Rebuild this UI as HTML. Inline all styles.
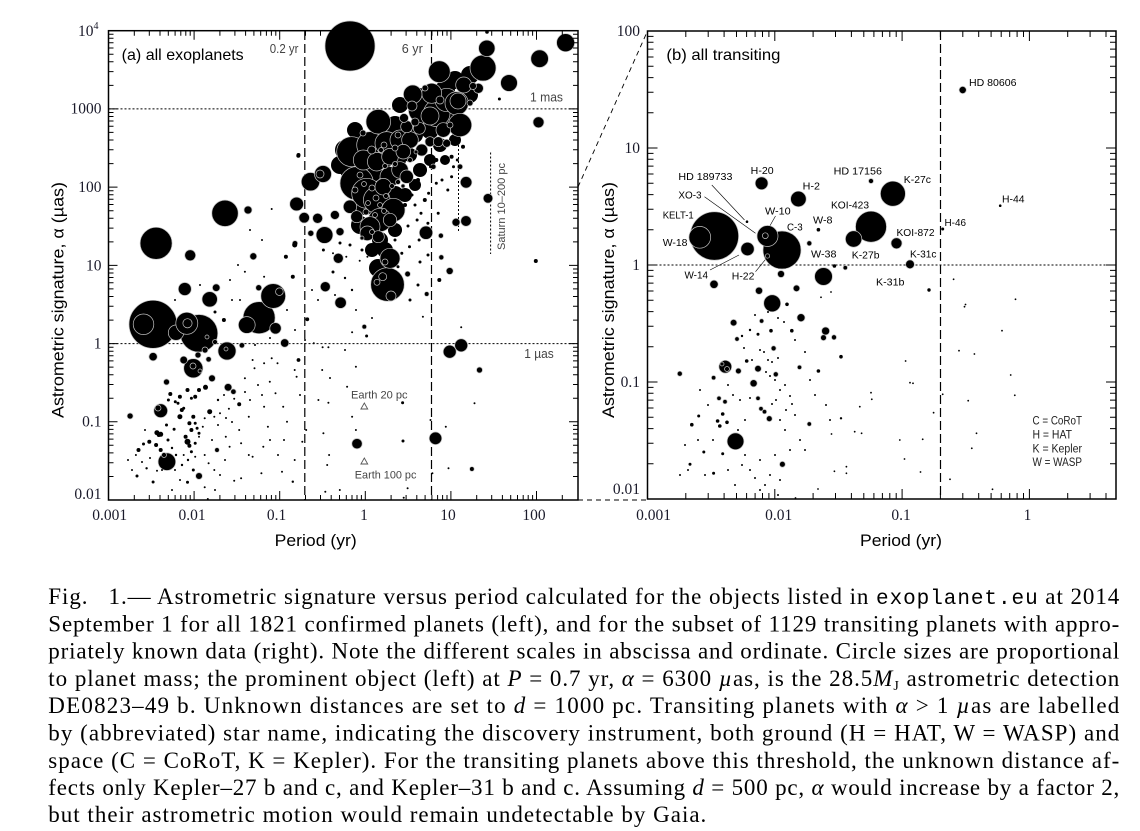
<!DOCTYPE html>
<html><head><meta charset="utf-8"><style>
html,body{margin:0;padding:0;background:#fff}
svg{display:block}
.c circle{fill:#000;stroke:#c4c4c4;stroke-width:.7}
.d circle{fill:#000}
.s{font-family:"Liberation Sans",sans-serif}
.n{font-family:"Liberation Serif",serif;font-size:15.5px;fill:#1a1a2a}
.a{font-family:"Liberation Sans",sans-serif;fill:#444}
.l{font-family:"Liberation Sans",sans-serif;font-size:10.5px;fill:#000}
.cap{font-family:"Liberation Serif",serif;font-size:23px;fill:#000}
</style></head><body>
<svg width="1140" height="831" viewBox="0 0 1140 831" xmlns="http://www.w3.org/2000/svg">
<rect width="1140" height="831" fill="#fff"/>

<!-- ================= LEFT PANEL ================= -->
<g fill="none" stroke="#000">
<path d="M304.8 31V500M431.5 31V500" stroke-width="1.2" stroke-dasharray="9,4"/>
<path d="M108.5 108.9H578M108.5 343.6H578" stroke-width="1" stroke-dasharray="2,2"/>
<path d="M490.6 152.5V254M458.5 133V233" stroke-width="1" stroke-dasharray="2,2"/>
</g>

<g class="d">
<circle cx="420" cy="100" r="12"/><circle cx="445" cy="90" r="10"/><circle cx="455" cy="80" r="9"/>
<circle cx="400" cy="105" r="8"/><circle cx="430" cy="130" r="9"/><circle cx="415" cy="135" r="8"/>
<circle cx="395" cy="125" r="9"/><circle cx="385" cy="135" r="8"/><circle cx="450" cy="115" r="10"/>
<circle cx="470" cy="95" r="8"/><circle cx="440" cy="145" r="7"/><circle cx="455" cy="140" r="6"/>
<circle cx="360" cy="140" r="10"/><circle cx="345" cy="150" r="10"/><circle cx="340" cy="165" r="9"/>
<circle cx="350" cy="170" r="10"/><circle cx="372" cy="172" r="10"/><circle cx="385" cy="160" r="8"/>
<circle cx="365" cy="205" r="10"/><circle cx="380" cy="240" r="8"/><circle cx="360" cy="225" r="9"/>
<circle cx="395" cy="195" r="9"/><circle cx="405" cy="195" r="7"/><circle cx="415" cy="185" r="6"/>
<circle cx="420" cy="170" r="7"/><circle cx="430" cy="160" r="6"/><circle cx="445" cy="160" r="5"/>
<circle cx="395" cy="230" r="7"/><circle cx="385" cy="250" r="8"/><circle cx="372" cy="250" r="7"/>
<circle cx="378" cy="268" r="9"/><circle cx="470" cy="75" r="9"/><circle cx="410" cy="155" r="7"/>
<circle cx="398" cy="160" r="8"/><circle cx="355" cy="130" r="8"/>
</g>

<g class="c">
<circle cx="350" cy="46" r="25"/><circle cx="153" cy="324.3" r="24"/><circle cx="199" cy="333.3" r="18.8"/>
<circle cx="387.5" cy="284.5" r="16.8"/><circle cx="356.7" cy="183.3" r="16.7"/><circle cx="156.1" cy="243.3" r="16"/>
<circle cx="259.1" cy="317.7" r="16"/><circle cx="351.7" cy="151.7" r="15"/><circle cx="366.7" cy="193.3" r="15"/>
<circle cx="483" cy="68" r="13"/><circle cx="225" cy="213.3" r="13.2"/><circle cx="370" cy="145" r="13.3"/>
<circle cx="376.7" cy="200" r="13.3"/><circle cx="421.7" cy="110" r="13.3"/><circle cx="436.7" cy="113.3" r="13.3"/>
<circle cx="273.2" cy="296" r="12.4"/><circle cx="378.3" cy="121.7" r="12.3"/><circle cx="446.7" cy="100" r="11.7"/>
<circle cx="456.7" cy="103.3" r="11.7"/><circle cx="460" cy="125" r="11.7"/><circle cx="386.7" cy="143.3" r="11.7"/>
<circle cx="393.3" cy="210" r="11.7"/><circle cx="380" cy="220" r="11.7"/><circle cx="439.3" cy="71.7" r="10.9"/>
<circle cx="431.7" cy="93.3" r="10"/><circle cx="400" cy="140" r="10"/><circle cx="363.3" cy="160" r="10"/>
<circle cx="390" cy="176.7" r="10"/><circle cx="370" cy="226.7" r="10"/><circle cx="390" cy="258.3" r="10"/>
<circle cx="310.5" cy="181.7" r="9.2"/><circle cx="323" cy="174" r="8.5"/><circle cx="193.3" cy="368.3" r="9.6"/>
<circle cx="412.7" cy="94.3" r="9.3"/><circle cx="376.7" cy="161.7" r="9.3"/><circle cx="565.6" cy="42.7" r="9"/>
<circle cx="539.6" cy="58.7" r="8.8"/><circle cx="227" cy="351" r="9"/><circle cx="166.9" cy="461.7" r="8.8"/>
<circle cx="509" cy="83" r="8.4"/><circle cx="486.8" cy="48.3" r="8.2"/><circle cx="324.5" cy="235" r="8.4"/>
<circle cx="463.7" cy="85" r="8"/><circle cx="390" cy="156.7" r="8.3"/><circle cx="383.3" cy="186.7" r="8.3"/>
<circle cx="410" cy="140" r="8.3"/><circle cx="400" cy="170" r="8.3"/><circle cx="176" cy="332.7" r="7.7"/>
<circle cx="209.7" cy="299.3" r="7.7"/><circle cx="403.3" cy="151.7" r="7.3"/><circle cx="443.3" cy="130" r="7.3"/>
<circle cx="367.3" cy="233.3" r="7.3"/><circle cx="160.7" cy="410.7" r="6.9"/><circle cx="296.6" cy="204" r="6.9"/>
<circle cx="406.7" cy="176.7" r="6.7"/><circle cx="390" cy="220" r="6.7"/><circle cx="350" cy="206.7" r="6.7"/>
<circle cx="426" cy="232.7" r="6.7"/><circle cx="184.8" cy="289" r="6.5"/><circle cx="449.7" cy="351.7" r="6.5"/>
<circle cx="461.2" cy="345.3" r="6.5"/><circle cx="435.5" cy="438.3" r="6.3"/><circle cx="406.7" cy="126.7" r="6"/>
<circle cx="419.3" cy="128.3" r="6"/><circle cx="421.7" cy="150" r="6"/><circle cx="356.7" cy="216.7" r="6"/>
<circle cx="378.3" cy="236.7" r="6"/><circle cx="466.1" cy="182.3" r="5.8"/><circle cx="275.5" cy="328.3" r="5.7"/>
<circle cx="340.6" cy="302.7" r="5.7"/><circle cx="538.5" cy="122.3" r="5.5"/><circle cx="190.2" cy="255.3" r="5.5"/>
<circle cx="466" cy="221" r="5.3"/><circle cx="304.2" cy="217.7" r="5.3"/><circle cx="357" cy="443.7" r="5.2"/>
<circle cx="317.6" cy="218.3" r="5"/><circle cx="325.3" cy="286.7" r="5"/><circle cx="488" cy="198.3" r="4.8"/>
<circle cx="478.4" cy="88.3" r="5"/><circle cx="338.3" cy="258.3" r="5"/><circle cx="430" cy="141.7" r="5"/>
<circle cx="438.3" cy="141.7" r="5"/><circle cx="404" cy="118" r="4.5"/><circle cx="334.9" cy="215" r="4.5"/>
<circle cx="153.1" cy="356.7" r="4.2"/><circle cx="284.7" cy="343" r="4.2"/><circle cx="446.7" cy="143.3" r="4"/>
<circle cx="340" cy="231.7" r="4"/><circle cx="456" cy="222.3" r="4"/><circle cx="248" cy="210" r="4"/>
<circle cx="216.2" cy="287.7" r="3.8"/><circle cx="183.7" cy="360" r="3.8"/><circle cx="228.1" cy="387.3" r="3.8"/>
<circle cx="253.3" cy="256.3" r="3.5"/><circle cx="449.7" cy="271" r="3.5"/><circle cx="212" cy="378.3" r="3.4"/>
<circle cx="199" cy="476" r="3.4"/><circle cx="479.5" cy="370" r="3"/><circle cx="258.7" cy="287.7" r="3"/>
<circle cx="166.5" cy="382" r="3"/><circle cx="130.1" cy="416" r="3"/><circle cx="310.8" cy="233.3" r="3"/>
<circle cx="407.6" cy="274" r="2.8"/><circle cx="241.9" cy="345.3" r="2.7"/><circle cx="233.4" cy="391.7" r="2.7"/>
<circle cx="208.6" cy="359.3" r="2.7"/><circle cx="460" cy="166.7" r="2.7"/><circle cx="433.3" cy="166.7" r="2.7"/>
<circle cx="295" cy="243.3" r="2.7"/><circle cx="426.7" cy="294" r="2.3"/><circle cx="364.3" cy="326.7" r="2.3"/>
<circle cx="471.9" cy="469" r="2.3"/><circle cx="217" cy="450" r="2.3"/><circle cx="440.9" cy="235.7" r="2.5"/>
<circle cx="441.3" cy="257.3" r="2.5"/>
<circle cx="143.5" cy="324.3" r="10.3"/><circle cx="186.8" cy="323.3" r="11"/><circle cx="187.5" cy="323.3" r="4.6"/>
<circle cx="205" cy="350" r="3"/><circle cx="207" cy="337" r="2"/><circle cx="215" cy="342" r="2.5"/><circle cx="198" cy="355" r="3"/>
<circle cx="246.8" cy="325" r="8.4"/><circle cx="279.4" cy="291.7" r="3.8"/><circle cx="377" cy="282.3" r="3"/>
<circle cx="382.7" cy="276.7" r="4"/><circle cx="391" cy="296" r="5"/><circle cx="371.7" cy="150" r="4"/>
<circle cx="384" cy="145" r="3"/><circle cx="363" cy="133" r="3"/><circle cx="381" cy="150" r="2.5"/>
<circle cx="395" cy="148" r="3"/><circle cx="360" cy="175" r="3"/><circle cx="372" cy="188" r="3"/>
<circle cx="376" cy="198" r="3"/><circle cx="368" cy="203" r="2.5"/><circle cx="380" cy="205" r="2.5"/>
<circle cx="386" cy="196" r="2.5"/><circle cx="392" cy="186" r="2.5"/><circle cx="355" cy="190" r="3"/>
<circle cx="364" cy="184" r="2.5"/><circle cx="398" cy="182" r="2.5"/><circle cx="403" cy="186" r="2"/>
<circle cx="385" cy="166" r="2.5"/><circle cx="395" cy="164" r="2.5"/><circle cx="410" cy="160" r="2.5"/>
<circle cx="416" cy="152" r="2"/><circle cx="470" cy="103" r="3"/><circle cx="473" cy="86" r="3.5"/>
<circle cx="458" cy="101" r="8"/><circle cx="430" cy="116" r="9"/><circle cx="415" cy="122" r="4"/>
<circle cx="366" cy="212" r="3"/><circle cx="375" cy="215" r="2.5"/><circle cx="384" cy="211" r="2.5"/>
<circle cx="372" cy="232" r="2.5"/><circle cx="362" cy="238" r="2"/><circle cx="385" cy="262" r="3"/>
<circle cx="164" cy="455" r="2.5"/><circle cx="158" cy="408" r="3"/><circle cx="193" cy="366" r="3"/>
<circle cx="200" cy="371" r="2"/><circle cx="226" cy="349" r="2"/><circle cx="320" cy="174" r="4"/>
<circle cx="412" cy="106" r="5"/><circle cx="440" cy="100" r="4"/><circle cx="425" cy="88" r="3"/>
<circle cx="450" cy="125" r="3"/><circle cx="398" cy="135" r="3"/>
</g>

<g class="d">
<circle cx="138.5" cy="450" r="2"/><circle cx="143.5" cy="444" r="1.5"/><circle cx="149.3" cy="441.7" r="2"/>
<circle cx="135.9" cy="455" r="1"/><circle cx="146.6" cy="468.3" r="1.2"/><circle cx="137" cy="476" r="1.5"/>
<circle cx="153.1" cy="482" r="1.5"/><circle cx="157" cy="470.7" r="1"/><circle cx="160.7" cy="450" r="2"/>
<circle cx="156.1" cy="445" r="2"/><circle cx="158.8" cy="435" r="2"/><circle cx="156.9" cy="432.7" r="2.5"/>
<circle cx="160.7" cy="434.3" r="2.5"/><circle cx="166.5" cy="425" r="1.5"/><circle cx="174.1" cy="429.3" r="1.5"/>
<circle cx="179.9" cy="416.7" r="2.5"/><circle cx="181.8" cy="410" r="2"/><circle cx="178" cy="403.3" r="1.5"/>
<circle cx="179.9" cy="396.7" r="2"/><circle cx="170.3" cy="394" r="2"/><circle cx="168.4" cy="400" r="1.5"/>
<circle cx="175.3" cy="401.7" r="1.5"/><circle cx="183.7" cy="408.3" r="1.5"/><circle cx="187.5" cy="390" r="2"/>
<circle cx="191.4" cy="398.3" r="1.5"/><circle cx="195.2" cy="396.7" r="2"/><circle cx="199" cy="390" r="2"/>
<circle cx="205.5" cy="387.3" r="2.5"/><circle cx="193.3" cy="416.7" r="2"/><circle cx="195.2" cy="423.3" r="1.5"/>
<circle cx="189.4" cy="423.3" r="2"/><circle cx="191.4" cy="430" r="2"/><circle cx="197.1" cy="428.3" r="1.5"/>
<circle cx="199" cy="433.3" r="1.5"/><circle cx="185.6" cy="436.7" r="2"/><circle cx="187.5" cy="441.7" r="3"/>
<circle cx="189.4" cy="445.7" r="2"/><circle cx="195.2" cy="443.3" r="1.5"/><circle cx="199" cy="436.7" r="1"/>
<circle cx="202.8" cy="426.7" r="1"/><circle cx="204.7" cy="418.3" r="1"/><circle cx="209.7" cy="411.7" r="2.5"/>
<circle cx="214.3" cy="416.7" r="1"/><circle cx="220" cy="413.3" r="1"/><circle cx="228.9" cy="408.7" r="1"/>
<circle cx="239.2" cy="404.3" r="2"/><circle cx="234.2" cy="398.7" r="1"/><circle cx="191.4" cy="451.7" r="1.5"/>
<circle cx="183.7" cy="455" r="1"/><circle cx="195.2" cy="456.7" r="1"/><circle cx="204.7" cy="455" r="1"/>
<circle cx="208.6" cy="463.3" r="1"/><circle cx="214.3" cy="470" r="1"/><circle cx="187.5" cy="482.3" r="1.5"/>
<circle cx="193.3" cy="470" r="1.5"/><circle cx="204.7" cy="487.3" r="1"/><circle cx="207.8" cy="499" r="1"/>
<circle cx="234.2" cy="480.7" r="1"/><circle cx="241.1" cy="478.3" r="1"/><circle cx="248.8" cy="455" r="1"/>
<circle cx="252.6" cy="456.7" r="1"/><circle cx="263.3" cy="446.7" r="1"/><circle cx="267.9" cy="426.7" r="1"/>
<circle cx="264.1" cy="406.7" r="1"/><circle cx="248.8" cy="416.7" r="1"/><circle cx="239.2" cy="430" r="1"/>
<circle cx="225.8" cy="436.7" r="1"/><circle cx="229.6" cy="446.7" r="1"/><circle cx="241.1" cy="443.3" r="1"/>
<circle cx="275.5" cy="393.3" r="1"/><circle cx="283.2" cy="406.7" r="1"/><circle cx="287" cy="421.7" r="1"/>
<circle cx="269.8" cy="381.7" r="1"/><circle cx="244.9" cy="378.3" r="1"/><circle cx="254.5" cy="368.3" r="1"/>
<circle cx="264.1" cy="363.3" r="1"/><circle cx="271.7" cy="358.3" r="1"/><circle cx="277.5" cy="363.3" r="1"/>
<circle cx="252.6" cy="360" r="1"/><circle cx="294.7" cy="370" r="1"/><circle cx="296.6" cy="376.7" r="1"/>
<circle cx="261.4" cy="473.3" r="1"/><circle cx="282" cy="471.7" r="1"/><circle cx="292.8" cy="481.7" r="1.2"/>
<circle cx="294.7" cy="460" r="1"/><circle cx="302.3" cy="441.7" r="1"/><circle cx="306.2" cy="430" r="1"/>
<circle cx="323.4" cy="433.3" r="1"/><circle cx="329.1" cy="455" r="1"/><circle cx="327.2" cy="465" r="1"/>
<circle cx="325.3" cy="491.7" r="1"/><circle cx="339.8" cy="490" r="1"/><circle cx="318.4" cy="400" r="1"/>
<circle cx="328.4" cy="402.7" r="1"/><circle cx="347.1" cy="386.7" r="1"/><circle cx="352.1" cy="416.7" r="1"/>
<circle cx="355.9" cy="430" r="1"/><circle cx="322.2" cy="370" r="1"/><circle cx="322.6" cy="347.3" r="1"/>
<circle cx="328.4" cy="347.3" r="1"/><circle cx="313.8" cy="343.3" r="1"/><circle cx="352.1" cy="332.3" r="1"/>
<circle cx="366.6" cy="336" r="1.5"/><circle cx="355.9" cy="366.7" r="1"/><circle cx="422.9" cy="316.7" r="1"/>
<circle cx="430.5" cy="420" r="1"/><circle cx="432.4" cy="473.3" r="1"/><circle cx="445.8" cy="426.7" r="1"/>
<circle cx="461.2" cy="327.3" r="1"/><circle cx="474.5" cy="403.3" r="1"/><circle cx="448.5" cy="468.3" r="1"/>
<circle cx="407.6" cy="488.3" r="1"/><circle cx="403.7" cy="497.7" r="1"/><circle cx="402.6" cy="402.7" r="1.5"/>
<circle cx="403" cy="441" r="1.5"/><circle cx="499.4" cy="99" r="1.5"/><circle cx="487" cy="32" r="1.8"/>
<circle cx="535.8" cy="261" r="2"/><circle cx="298.3" cy="155.7" r="2"/><circle cx="439.3" cy="280" r="2"/>
<circle cx="223.9" cy="320" r="2"/><circle cx="298.5" cy="360" r="1.9"/><circle cx="307.3" cy="319.3" r="1.9"/>
<circle cx="271.7" cy="209" r="1"/><circle cx="298.5" cy="155" r="2"/><circle cx="294.7" cy="245" r="2.5"/>
<circle cx="285.9" cy="256.7" r="2"/><circle cx="244.9" cy="271.7" r="1"/><circle cx="264.1" cy="276.7" r="1"/>
<circle cx="292.8" cy="276.7" r="2"/><circle cx="323.4" cy="250" r="1.5"/><circle cx="333" cy="253.3" r="1"/>
<circle cx="346.3" cy="256.7" r="1"/><circle cx="359.7" cy="260.7" r="1"/><circle cx="367.4" cy="256.7" r="1"/>
<circle cx="424.8" cy="200" r="2"/><circle cx="428.6" cy="193.3" r="1.5"/><circle cx="436.3" cy="183.3" r="1.5"/>
<circle cx="442" cy="180" r="1.5"/><circle cx="451.6" cy="176.7" r="1.5"/><circle cx="447.8" cy="190" r="1.5"/>
<circle cx="421" cy="213.3" r="1.5"/><circle cx="417.1" cy="220" r="1.5"/><circle cx="427.9" cy="223.3" r="1.5"/>
<circle cx="430.5" cy="233.3" r="1.5"/><circle cx="438.2" cy="213.3" r="1.5"/><circle cx="419.1" cy="240" r="1.5"/>
<circle cx="409.5" cy="246.7" r="1.5"/><circle cx="401.8" cy="253.3" r="1.5"/><circle cx="398" cy="266.7" r="1.5"/>
<circle cx="451.6" cy="156.7" r="2"/><circle cx="457.3" cy="160" r="1.5"/><circle cx="453.5" cy="166.7" r="1.5"/>
<circle cx="463" cy="146.7" r="2"/><circle cx="436.3" cy="160" r="2"/><circle cx="430.5" cy="166.7" r="1.5"/>
<circle cx="409.5" cy="175" r="2"/><circle cx="418" cy="180" r="2"/><circle cx="425" cy="170" r="2"/>
<circle cx="412" cy="195" r="1.5"/><circle cx="405" cy="205" r="2"/><circle cx="415" cy="205" r="1.5"/>
<circle cx="400" cy="230" r="2"/><circle cx="408" cy="226" r="1.5"/><circle cx="395" cy="240" r="1.5"/>
<circle cx="362" cy="250" r="1.5"/><circle cx="350" cy="245" r="1.5"/><circle cx="340" cy="243" r="1.5"/>
<circle cx="333" cy="272" r="1.5"/><circle cx="345" cy="278" r="1.2"/><circle cx="352" cy="290" r="1.2"/>
<circle cx="335" cy="295" r="1"/><circle cx="318" cy="300" r="1"/><circle cx="312" cy="290" r="1"/>
<circle cx="356" cy="310" r="1"/><circle cx="372" cy="318" r="1"/><circle cx="410" cy="300" r="1.5"/>
<circle cx="418" cy="285" r="1.5"/><circle cx="420" cy="262" r="1.5"/><circle cx="428" cy="255" r="1.5"/>
<circle cx="250" cy="230" r="1"/><circle cx="262" cy="240" r="1"/><circle cx="238" cy="265" r="1"/>
<circle cx="230" cy="280" r="1"/><circle cx="240" cy="300" r="1"/><circle cx="287" cy="310" r="1"/>
<circle cx="295" cy="330" r="1"/><circle cx="305" cy="340" r="1"/><circle cx="255" cy="345" r="1"/>
<circle cx="270" cy="338" r="1"/><circle cx="215" cy="312" r="1.5"/><circle cx="232" cy="300" r="1"/>
<circle cx="175" cy="300" r="1"/><circle cx="170" cy="312" r="1"/><circle cx="200" cy="285" r="1"/>
<circle cx="145" cy="430" r="1"/><circle cx="150" cy="458" r="1"/><circle cx="175" cy="470" r="1"/>
<circle cx="180" cy="480" r="1"/><circle cx="172" cy="490" r="1"/><circle cx="215" cy="490" r="1"/>
<circle cx="220" cy="475" r="1"/><circle cx="225" cy="460" r="1"/><circle cx="212" cy="440" r="1"/>
<circle cx="218" cy="425" r="1"/><circle cx="226" cy="418" r="1"/><circle cx="232" cy="422" r="1"/>
<circle cx="270" cy="440" r="1"/><circle cx="278" cy="455" r="1"/><circle cx="284" cy="440" r="1"/>
<circle cx="300" cy="395" r="1"/><circle cx="330" cy="378" r="1"/><circle cx="345" cy="350" r="1"/>
<circle cx="168" cy="440" r="1.5"/><circle cx="172" cy="448" r="1.2"/><circle cx="182" cy="465" r="1.2"/>
<circle cx="188" cy="460" r="1.2"/><circle cx="176" cy="455" r="1.2"/><circle cx="162" cy="470" r="1"/>
<circle cx="142" cy="462" r="1"/><circle cx="128" cy="460" r="1"/><circle cx="132" cy="470" r="1"/>
<circle cx="218" cy="400" r="1.2"/><circle cx="224" cy="395" r="1"/><circle cx="245" cy="392" r="1"/>
<circle cx="258" cy="385" r="1"/><circle cx="262" cy="395" r="1"/><circle cx="250" cy="400" r="1"/>
</g>

<g fill="#fff" stroke="#555" stroke-width="0.9">
<path d="M364.3 403l3.4 6h-6.8z"/><path d="M364.3 458l3.4 6h-6.8z"/>
</g>

<rect x="108.5" y="30.7" width="469.5" height="469.3" fill="none" stroke="#000" stroke-width="1.5"/>
<g stroke="#000" stroke-width="1" fill="none">
<path d="M194.1 500v-9M279.7 500v-9M365.3 500v-9M450.9 500v-9M536.5 500v-9M194.1 30.7v9M279.7 30.7v9M365.3 30.7v9M450.9 30.7v9M536.5 30.7v9"/>
<path d="M134.3 500v-5M149.3 500v-5M160 500v-5M168.3 500v-5M175.1 500v-5M180.8 500v-5M185.8 500v-5M190.2 500v-5M219.9 500v-5M234.9 500v-5M245.6 500v-5M253.9 500v-5M260.7 500v-5M266.4 500v-5M271.4 500v-5M275.8 500v-5M305.5 500v-5M320.5 500v-5M331.2 500v-5M339.5 500v-5M346.3 500v-5M352 500v-5M357 500v-5M361.4 500v-5M391.1 500v-5M406.1 500v-5M416.8 500v-5M425.1 500v-5M431.9 500v-5M437.6 500v-5M442.6 500v-5M447 500v-5M476.7 500v-5M491.7 500v-5M502.4 500v-5M510.7 500v-5M517.5 500v-5M523.2 500v-5M528.2 500v-5M532.6 500v-5M562.3 500v-5"/>
<path d="M134.3 30.7v5M149.3 30.7v5M160 30.7v5M168.3 30.7v5M175.1 30.7v5M180.8 30.7v5M185.8 30.7v5M190.2 30.7v5M219.9 30.7v5M234.9 30.7v5M245.6 30.7v5M253.9 30.7v5M260.7 30.7v5M266.4 30.7v5M271.4 30.7v5M275.8 30.7v5M305.5 30.7v5M320.5 30.7v5M331.2 30.7v5M339.5 30.7v5M346.3 30.7v5M352 30.7v5M357 30.7v5M361.4 30.7v5M391.1 30.7v5M406.1 30.7v5M416.8 30.7v5M425.1 30.7v5M431.9 30.7v5M437.6 30.7v5M442.6 30.7v5M447 30.7v5M476.7 30.7v5M491.7 30.7v5M502.4 30.7v5M510.7 30.7v5M517.5 30.7v5M523.2 30.7v5M528.2 30.7v5M532.6 30.7v5M562.3 30.7v5"/>
<path d="M108.5 108.9h9M108.5 187.1h9M108.5 265.4h9M108.5 343.6h9M108.5 421.8h9M578 108.9h-9M578 187.1h-9M578 265.4h-9M578 343.6h-9M578 421.8h-9"/>
<path d="M108.5 476.5h5M108.5 462.7h5M108.5 452.9h5M108.5 445.3h5M108.5 439.1h5M108.5 433.9h5M108.5 429.4h5M108.5 425.4h5M108.5 398.3h5M108.5 384.5h5M108.5 374.7h5M108.5 367.1h5M108.5 360.9h5M108.5 355.7h5M108.5 351.2h5M108.5 347.2h5M108.5 320.1h5M108.5 306.3h5M108.5 296.5h5M108.5 288.9h5M108.5 282.7h5M108.5 277.5h5M108.5 273h5M108.5 269h5M108.5 241.9h5M108.5 228.1h5M108.5 218.3h5M108.5 210.7h5M108.5 204.5h5M108.5 199.3h5M108.5 194.8h5M108.5 190.8h5M108.5 163.6h5M108.5 149.8h5M108.5 140h5M108.5 132.4h5M108.5 126.2h5M108.5 121h5M108.5 116.5h5M108.5 112.5h5M108.5 85.4h5M108.5 71.6h5M108.5 61.8h5M108.5 54.2h5M108.5 48h5M108.5 42.8h5M108.5 38.3h5M108.5 34.3h5"/>
<path d="M578 476.5h-5M578 462.7h-5M578 452.9h-5M578 445.3h-5M578 439.1h-5M578 433.9h-5M578 429.4h-5M578 425.4h-5M578 398.3h-5M578 384.5h-5M578 374.7h-5M578 367.1h-5M578 360.9h-5M578 355.7h-5M578 351.2h-5M578 347.2h-5M578 320.1h-5M578 306.3h-5M578 296.5h-5M578 288.9h-5M578 282.7h-5M578 277.5h-5M578 273h-5M578 269h-5M578 241.9h-5M578 228.1h-5M578 218.3h-5M578 210.7h-5M578 204.5h-5M578 199.3h-5M578 194.8h-5M578 190.8h-5M578 163.6h-5M578 149.8h-5M578 140h-5M578 132.4h-5M578 126.2h-5M578 121h-5M578 116.5h-5M578 112.5h-5M578 85.4h-5M578 71.6h-5M578 61.8h-5M578 54.2h-5M578 48h-5M578 42.8h-5M578 38.3h-5M578 34.3h-5"/>
</g>

<g class="n" text-anchor="end">
<text x="98.5" y="36">10<tspan font-size="10" dy="-7">4</tspan></text>
<text x="101.5" y="113.5">1000</text>
<text x="101.5" y="192">100</text>
<text x="101.5" y="270.5">10</text>
<text x="101.5" y="348.5">1</text>
<text x="101.5" y="426.5">0.1</text>
<text x="101.5" y="499">0.01</text>
</g>
<g class="n" text-anchor="middle">
<text x="109.7" y="520">0.001</text>
<text x="192" y="520">0.01</text>
<text x="276.5" y="520">0.1</text>
<text x="364" y="520">1</text>
<text x="448" y="520">10</text>
<text x="534" y="520">100</text>
</g>

<text class="s" x="121.7" y="60" font-size="16" textLength="122" lengthAdjust="spacingAndGlyphs">(a) all exoplanets</text>
<text class="a" x="269.8" y="53" font-size="12.5" textLength="28.7" lengthAdjust="spacingAndGlyphs">0.2 yr</text>
<text class="a" x="401.8" y="53" font-size="12.5" textLength="21" lengthAdjust="spacingAndGlyphs">6 yr</text>
<text class="a" x="530" y="101.5" font-size="12.5" textLength="33" lengthAdjust="spacingAndGlyphs">1 mas</text>
<text class="a" x="524.3" y="358" font-size="12.5" textLength="29.5" lengthAdjust="spacingAndGlyphs">1 µas</text>
<text class="a" transform="translate(505,250) rotate(-90)" font-size="11" textLength="87" lengthAdjust="spacingAndGlyphs">Saturn 10–200 pc</text>
<text class="a" x="351" y="398.5" font-size="11" textLength="56.6" lengthAdjust="spacingAndGlyphs">Earth 20 pc</text>
<text class="a" x="354.8" y="478.5" font-size="11" textLength="61.6" lengthAdjust="spacingAndGlyphs">Earth 100 pc</text>

<text class="s" transform="translate(63.5,300) rotate(-90)" text-anchor="middle" font-size="17" textLength="236" lengthAdjust="spacingAndGlyphs">Astrometric signature, α (µas)</text>
<text class="s" x="315.7" y="546" text-anchor="middle" font-size="17" textLength="82" lengthAdjust="spacingAndGlyphs">Period (yr)</text>

<g stroke="#000" stroke-width="0.9" stroke-dasharray="5,4" fill="none">
<path d="M578 187L647.5 31"/>
<path d="M578 500H647.5"/>
</g>

<!-- ================= RIGHT PANEL ================= -->
<g fill="none" stroke="#000">
<path d="M940.5 31V499" stroke-width="1.2" stroke-dasharray="9,4"/>
<path d="M647.5 265H1116" stroke-width="1" stroke-dasharray="2,2"/>
</g>

<g stroke="#000" stroke-width="0.6" fill="none">
<path d="M711.8 185L744.5 220M704.5 196.7L755.5 233.3M775.5 216L767.5 230M710 270L739 255M755.5 271.7L766.4 258.3"/>
</g>

<g class="c">
<circle cx="714.4" cy="236" r="24.2"/><circle cx="699.8" cy="237.3" r="10.9"/>
<circle cx="782" cy="250" r="19"/><circle cx="871" cy="226.7" r="15.5"/><circle cx="892.9" cy="193.7" r="12.5"/>
<circle cx="767.5" cy="236" r="10.5"/><circle cx="765.3" cy="235.7" r="2.9"/>
<circle cx="823.5" cy="276.5" r="8.9"/><circle cx="772.2" cy="303.3" r="8.5"/><circle cx="735.5" cy="441.3" r="8.4"/>
<circle cx="853.6" cy="239" r="8.2"/><circle cx="798.4" cy="199" r="7.8"/><circle cx="747.5" cy="249" r="6.7"/>
<circle cx="761.6" cy="183.3" r="6.4"/><circle cx="725.3" cy="366.7" r="6.4"/><circle cx="722" cy="364" r="2"/>
<circle cx="727" cy="369" r="2.5"/><circle cx="896.5" cy="243.3" r="5.5"/><circle cx="910" cy="264.3" r="4.4"/>
<circle cx="714" cy="284.3" r="4.2"/><circle cx="801" cy="317.7" r="4"/><circle cx="825.6" cy="331" r="4"/>
<circle cx="962.7" cy="90" r="3.6"/><circle cx="759" cy="290.7" r="3.6"/><circle cx="753.6" cy="383.3" r="3.6"/>
<circle cx="781" cy="274" r="3.5"/><circle cx="796.5" cy="288.3" r="3.3"/><circle cx="733.6" cy="322.7" r="3.3"/>
<circle cx="758" cy="368.7" r="3.3"/><circle cx="823.5" cy="337.7" r="2.9"/><circle cx="769.3" cy="418.7" r="2.9"/>
<circle cx="782.4" cy="464.3" r="2.9"/><circle cx="738.4" cy="371" r="2.9"/><circle cx="834" cy="337.3" r="2.5"/>
<circle cx="871" cy="181" r="2.5"/><circle cx="809.3" cy="243.3" r="2.5"/><circle cx="679.8" cy="373.7" r="2.5"/>
<circle cx="775.8" cy="374.3" r="2.5"/><circle cx="773.6" cy="348.3" r="2.5"/><circle cx="761.6" cy="321" r="2.2"/>
<circle cx="737" cy="339" r="2.2"/><circle cx="713.6" cy="377.7" r="2.2"/><circle cx="799.5" cy="367.3" r="2.2"/>
<circle cx="719" cy="398.3" r="2.2"/><circle cx="725" cy="401.7" r="2.2"/><circle cx="758" cy="398.3" r="2.2"/>
<circle cx="761" cy="408.7" r="2.2"/><circle cx="764.5" cy="411.7" r="2.2"/><circle cx="809.3" cy="424" r="2.2"/>
<circle cx="845.3" cy="267.7" r="2.2"/><circle cx="767.5" cy="256" r="2.2"/>
</g>
<g class="d">
<circle cx="787" cy="304.3" r="1.8"/><circle cx="818.4" cy="229.7" r="1.8"/><circle cx="834.4" cy="266" r="1.8"/>
<circle cx="841" cy="356.7" r="1.8"/><circle cx="771" cy="330.7" r="1.8"/><circle cx="791.8" cy="330.7" r="1.8"/>
<circle cx="746.7" cy="361" r="1.8"/><circle cx="818.4" cy="371" r="1.8"/><circle cx="722.7" cy="414" r="1.8"/>
<circle cx="717.6" cy="421" r="1.8"/><circle cx="719.8" cy="426" r="1.8"/><circle cx="727" cy="422.3" r="1.8"/>
<circle cx="691.8" cy="424.7" r="1.8"/><circle cx="929" cy="290" r="1.7"/><circle cx="942.7" cy="229" r="1.5"/>
<circle cx="1000.2" cy="205.7" r="1.3"/><circle cx="747" cy="221.7" r="1.3"/><circle cx="698.7" cy="416" r="1.5"/>
<circle cx="722.7" cy="453.7" r="1.5"/><circle cx="703.8" cy="452" r="1.5"/><circle cx="690" cy="464.3" r="1.5"/>
<circle cx="713.6" cy="473.3" r="1.5"/><circle cx="758" cy="334.3" r="1.5"/><circle cx="841" cy="418.3" r="1.2"/>
<circle cx="953.6" cy="279.3" r="0.9"/><circle cx="964.5" cy="306.7" r="0.9"/><circle cx="965.5" cy="304.5" r="0.9"/>
<circle cx="1015.5" cy="299.3" r="0.9"/><circle cx="1002" cy="330.7" r="0.9"/><circle cx="959" cy="350.7" r="0.9"/>
<circle cx="974.4" cy="354" r="0.9"/><circle cx="1010.7" cy="375" r="0.9"/><circle cx="1014.8" cy="395.3" r="0.9"/>
<circle cx="942.7" cy="394.3" r="0.9"/><circle cx="968.2" cy="400.7" r="0.9"/><circle cx="933.6" cy="412.7" r="0.9"/>
<circle cx="976.5" cy="433.3" r="0.9"/><circle cx="971.8" cy="448.3" r="0.9"/><circle cx="950" cy="479.3" r="0.9"/>
<circle cx="992.5" cy="489.3" r="0.9"/><circle cx="905.6" cy="361" r="0.9"/><circle cx="910" cy="382.7" r="0.9"/>
<circle cx="913" cy="383.3" r="0.9"/><circle cx="871" cy="392.7" r="0.9"/><circle cx="871.8" cy="399.3" r="0.9"/>
<circle cx="859.8" cy="406.7" r="0.9"/><circle cx="854.7" cy="431.7" r="0.9"/><circle cx="861.6" cy="433.3" r="0.9"/>
<circle cx="899.8" cy="440" r="0.9"/><circle cx="922.7" cy="439.3" r="0.9"/><circle cx="904.5" cy="459" r="0.9"/>
<circle cx="920.5" cy="472" r="0.9"/><circle cx="846.4" cy="466.7" r="0.9"/><circle cx="846.4" cy="473.3" r="0.9"/>
<circle cx="834.4" cy="471.3" r="0.9"/><circle cx="818" cy="489" r="0.9"/><circle cx="795.5" cy="498" r="0.9"/>
<circle cx="831.5" cy="434" r="0.9"/><circle cx="821" cy="297.3" r="0.9"/><circle cx="831" cy="292" r="0.9"/>
<circle cx="760" cy="350" r="1"/><circle cx="764" cy="352" r="1"/><circle cx="768" cy="360" r="1"/>
<circle cx="772" cy="362" r="1"/><circle cx="778" cy="358" r="1"/><circle cx="766" cy="372" r="1"/>
<circle cx="770" cy="376" r="1"/><circle cx="775" cy="380" r="1"/><circle cx="780" cy="390" r="1"/>
<circle cx="785" cy="385" r="1"/><circle cx="790" cy="396" r="1"/><circle cx="792" cy="404" r="1"/>
<circle cx="786" cy="410" r="1"/><circle cx="776" cy="400" r="1"/><circle cx="772" cy="404" r="1"/>
<circle cx="780" cy="420" r="1"/><circle cx="785" cy="430" r="1"/><circle cx="795" cy="415" r="1"/>
<circle cx="800" cy="440" r="1"/><circle cx="805" cy="450" r="1"/><circle cx="790" cy="450" r="1"/>
<circle cx="775" cy="455" r="1"/><circle cx="760" cy="460" r="1"/><circle cx="750" cy="470" r="1"/>
<circle cx="742" cy="465" r="1"/><circle cx="770" cy="475" r="1"/><circle cx="780" cy="480" r="1"/>
<circle cx="765" cy="485" r="1"/><circle cx="755" cy="478" r="1"/><circle cx="745" cy="455" r="1"/>
<circle cx="738" cy="430" r="1"/><circle cx="745" cy="420" r="1"/><circle cx="750" cy="398" r="1"/>
<circle cx="752" cy="360" r="1"/><circle cx="744" cy="348" r="1"/><circle cx="742" cy="336" r="1.2"/>
<circle cx="750" cy="330" r="1.2"/><circle cx="755" cy="315" r="1"/><circle cx="768" cy="312" r="1"/>
<circle cx="778" cy="318" r="1"/><circle cx="784" cy="322" r="1"/><circle cx="795" cy="340" r="1"/>
<circle cx="805" cy="352" r="1"/><circle cx="810" cy="380" r="1"/><circle cx="815" cy="395" r="1"/>
<circle cx="826" cy="405" r="1"/><circle cx="830" cy="420" r="1"/><circle cx="740" cy="400" r="1"/>
<circle cx="733" cy="395" r="1"/><circle cx="728" cy="385" r="1"/><circle cx="700" cy="390" r="1"/>
<circle cx="708" cy="405" r="1"/><circle cx="713" cy="440" r="1"/><circle cx="698" cy="440" r="1"/>
<circle cx="685" cy="445" r="1"/><circle cx="688" cy="470" r="1"/><circle cx="680" cy="475" r="1"/>
<circle cx="705" cy="475" r="1"/><circle cx="728" cy="470" r="1"/><circle cx="735" cy="485" r="1"/>
<circle cx="760" cy="490" r="1"/><circle cx="778" cy="495" r="1"/><circle cx="834" cy="266" r="1"/>
</g>

<rect x="647.5" y="31" width="468.5" height="468" fill="none" stroke="#000" stroke-width="1.5"/>
<g stroke="#000" stroke-width="1" fill="none">
<path d="M774.8 499v-10M902.1 499v-10M1029.4 499v-10M774.8 31v10M902.1 31v10M1029.4 31v10"/>
<path d="M685.8 499v-6M708.2 499v-6M724.1 499v-6M736.5 499v-6M746.6 499v-6M755.1 499v-6M762.5 499v-6M768.9 499v-6M813.1 499v-6M835.5 499v-6M851.4 499v-6M863.8 499v-6M873.9 499v-6M882.4 499v-6M889.8 499v-6M896.2 499v-6M940.4 499v-6M962.8 499v-6M978.7 499v-6M991.1 499v-6M1001.2 499v-6M1009.7 499v-6M1017.1 499v-6M1023.5 499v-6M1067.7 499v-6M1090.1 499v-6M1106 499v-6"/>
<path d="M685.8 31v6M708.2 31v6M724.1 31v6M736.5 31v6M746.6 31v6M755.1 31v6M762.5 31v6M768.9 31v6M813.1 31v6M835.5 31v6M851.4 31v6M863.8 31v6M873.9 31v6M882.4 31v6M889.8 31v6M896.2 31v6M940.4 31v6M962.8 31v6M978.7 31v6M991.1 31v6M1001.2 31v6M1009.7 31v6M1017.1 31v6M1023.5 31v6M1067.7 31v6M1090.1 31v6M1106 31v6"/>
<path d="M647.5 148h10M647.5 265h10M647.5 382h10M1116 148h-10M1116 265h-10M1116 382h-10"/>
<path d="M647.5 463.8h6M647.5 443.2h6M647.5 428.6h6M647.5 417.2h6M647.5 408h6M647.5 400.1h6M647.5 393.3h6M647.5 387.4h6M647.5 346.8h6M647.5 326.2h6M647.5 311.6h6M647.5 300.2h6M647.5 291h6M647.5 283.1h6M647.5 276.3h6M647.5 270.4h6M647.5 229.8h6M647.5 209.2h6M647.5 194.6h6M647.5 183.2h6M647.5 174h6M647.5 166.1h6M647.5 159.3h6M647.5 153.4h6M647.5 112.8h6M647.5 92.2h6M647.5 77.6h6M647.5 66.2h6M647.5 57h6M647.5 49.1h6M647.5 42.3h6M647.5 36.4h6"/>
<path d="M1116 463.8h-6M1116 443.2h-6M1116 428.6h-6M1116 417.2h-6M1116 408h-6M1116 400.1h-6M1116 393.3h-6M1116 387.4h-6M1116 346.8h-6M1116 326.2h-6M1116 311.6h-6M1116 300.2h-6M1116 291h-6M1116 283.1h-6M1116 276.3h-6M1116 270.4h-6M1116 229.8h-6M1116 209.2h-6M1116 194.6h-6M1116 183.2h-6M1116 174h-6M1116 166.1h-6M1116 159.3h-6M1116 153.4h-6M1116 112.8h-6M1116 92.2h-6M1116 77.6h-6M1116 66.2h-6M1116 57h-6M1116 49.1h-6M1116 42.3h-6M1116 36.4h-6"/>
</g>

<g class="n" text-anchor="end">
<text x="640" y="36">100</text>
<text x="640" y="153">10</text>
<text x="640" y="270">1</text>
<text x="640" y="387">0.1</text>
<text x="640" y="494">0.01</text>
</g>
<g class="n" text-anchor="middle">
<text x="653.6" y="520">0.001</text>
<text x="778.7" y="520">0.01</text>
<text x="901" y="520">0.1</text>
<text x="1027.5" y="520">1</text>
</g>

<text class="s" x="666.4" y="60" font-size="16" textLength="114" lengthAdjust="spacingAndGlyphs">(b) all transiting</text>

<g class="l">
<text x="969" y="86" textLength="47.5" lengthAdjust="spacingAndGlyphs">HD 80606</text>
<text x="1002" y="202.5" textLength="22.5" lengthAdjust="spacingAndGlyphs">H-44</text>
<text x="944.5" y="226" textLength="21.5" lengthAdjust="spacingAndGlyphs">H-46</text>
<text x="903.8" y="183" textLength="27.2" lengthAdjust="spacingAndGlyphs">K-27c</text>
<text x="833.6" y="174.5" textLength="48.4" lengthAdjust="spacingAndGlyphs">HD 17156</text>
<text x="831" y="208.5" textLength="38" lengthAdjust="spacingAndGlyphs">KOI-423</text>
<text x="896.5" y="236" textLength="38" lengthAdjust="spacingAndGlyphs">KOI-872</text>
<text x="851.8" y="258.5" textLength="27.7" lengthAdjust="spacingAndGlyphs">K-27b</text>
<text x="910" y="257.5" textLength="26.5" lengthAdjust="spacingAndGlyphs">K-31c</text>
<text x="876" y="285.5" textLength="28.5" lengthAdjust="spacingAndGlyphs">K-31b</text>
<text x="811" y="257.5" textLength="25.5" lengthAdjust="spacingAndGlyphs">W-38</text>
<text x="813" y="223.5" textLength="19.5" lengthAdjust="spacingAndGlyphs">W-8</text>
<text x="787" y="230.5" textLength="15.7" lengthAdjust="spacingAndGlyphs">C-3</text>
<text x="765" y="214.5" textLength="25.7" lengthAdjust="spacingAndGlyphs">W-10</text>
<text x="802.7" y="189.5" textLength="17.3" lengthAdjust="spacingAndGlyphs">H-2</text>
<text x="750.7" y="173.8" textLength="22.9" lengthAdjust="spacingAndGlyphs">H-20</text>
<text x="678.4" y="180" textLength="54" lengthAdjust="spacingAndGlyphs">HD 189733</text>
<text x="678.4" y="198.5" textLength="23.2" lengthAdjust="spacingAndGlyphs">XO-3</text>
<text x="662.7" y="218.5" textLength="31" lengthAdjust="spacingAndGlyphs">KELT-1</text>
<text x="662.7" y="246" textLength="24.8" lengthAdjust="spacingAndGlyphs">W-18</text>
<text x="684.5" y="278.5" textLength="23.5" lengthAdjust="spacingAndGlyphs">W-14</text>
<text x="731.8" y="279.5" textLength="22.6" lengthAdjust="spacingAndGlyphs">H-22</text>
</g>

<g class="s" font-size="11.5" fill="#222">
<text x="1032.5" y="424.5" textLength="49.5" lengthAdjust="spacingAndGlyphs">C = CoRoT</text>
<text x="1032.5" y="438.5" textLength="39.5" lengthAdjust="spacingAndGlyphs">H = HAT</text>
<text x="1032.5" y="452.5" textLength="49.5" lengthAdjust="spacingAndGlyphs">K = Kepler</text>
<text x="1032.5" y="466" textLength="49.5" lengthAdjust="spacingAndGlyphs">W = WASP</text>
</g>

<text class="s" transform="translate(614,300) rotate(-90)" text-anchor="middle" font-size="17" textLength="236" lengthAdjust="spacingAndGlyphs">Astrometric signature, α (µas)</text>
<text class="s" x="901" y="546" text-anchor="middle" font-size="17" textLength="82" lengthAdjust="spacingAndGlyphs">Period (yr)</text>

<!-- ================= CAPTION ================= -->
<g class="cap">
<text x="48.3" y="604" textLength="1071" lengthAdjust="spacing">Fig.&#160;&#160; 1.— Astrometric signature versus period calculated for the objects listed in <tspan font-family="Liberation Mono, monospace" font-size="21">exoplanet.eu</tspan> at 2014</text>
<text x="48.3" y="631.3" textLength="1071" lengthAdjust="spacing">September 1 for all 1821 confirmed planets (left), and for the subset of 1129 transiting planets with appro-</text>
<text x="48.3" y="658.6" textLength="1071" lengthAdjust="spacing">priately known data (right). Note the different scales in abscissa and ordinate. Circle sizes are proportional</text>
<text x="48.3" y="685.9" textLength="1071" lengthAdjust="spacing">to planet mass; the prominent object (left) at <tspan font-style="italic">P</tspan> = 0.7 yr, <tspan font-style="italic">α</tspan> = 6300 <tspan font-style="italic">µ</tspan>as, is the 28.5<tspan font-style="italic">M</tspan><tspan font-size="14" dy="4">J</tspan><tspan dy="-4"> astrometric detection</tspan></text>
<text x="48.3" y="713.2" textLength="1071" lengthAdjust="spacing">DE0823–49 b. Unknown distances are set to <tspan font-style="italic">d</tspan> = 1000 pc. Transiting planets with <tspan font-style="italic">α</tspan> &gt; 1 <tspan font-style="italic">µ</tspan>as are labelled</text>
<text x="48.3" y="740.5" textLength="1071" lengthAdjust="spacing">by (abbreviated) star name, indicating the discovery instrument, both ground (H = HAT, W = WASP) and</text>
<text x="48.3" y="767.8" textLength="1071" lengthAdjust="spacing">space (C = CoRoT, K = Kepler). For the transiting planets above this threshold, the unknown distance af-</text>
<text x="48.3" y="795.1" textLength="1071" lengthAdjust="spacing">fects only Kepler–27 b and c, and Kepler–31 b and c. Assuming <tspan font-style="italic">d</tspan> = 500 pc, <tspan font-style="italic">α</tspan> would increase by a factor 2,</text>
<text x="48.3" y="822" textLength="658" lengthAdjust="spacing">but their astrometric motion would remain undetectable by Gaia.</text>
</g>
</svg>
</body></html>
